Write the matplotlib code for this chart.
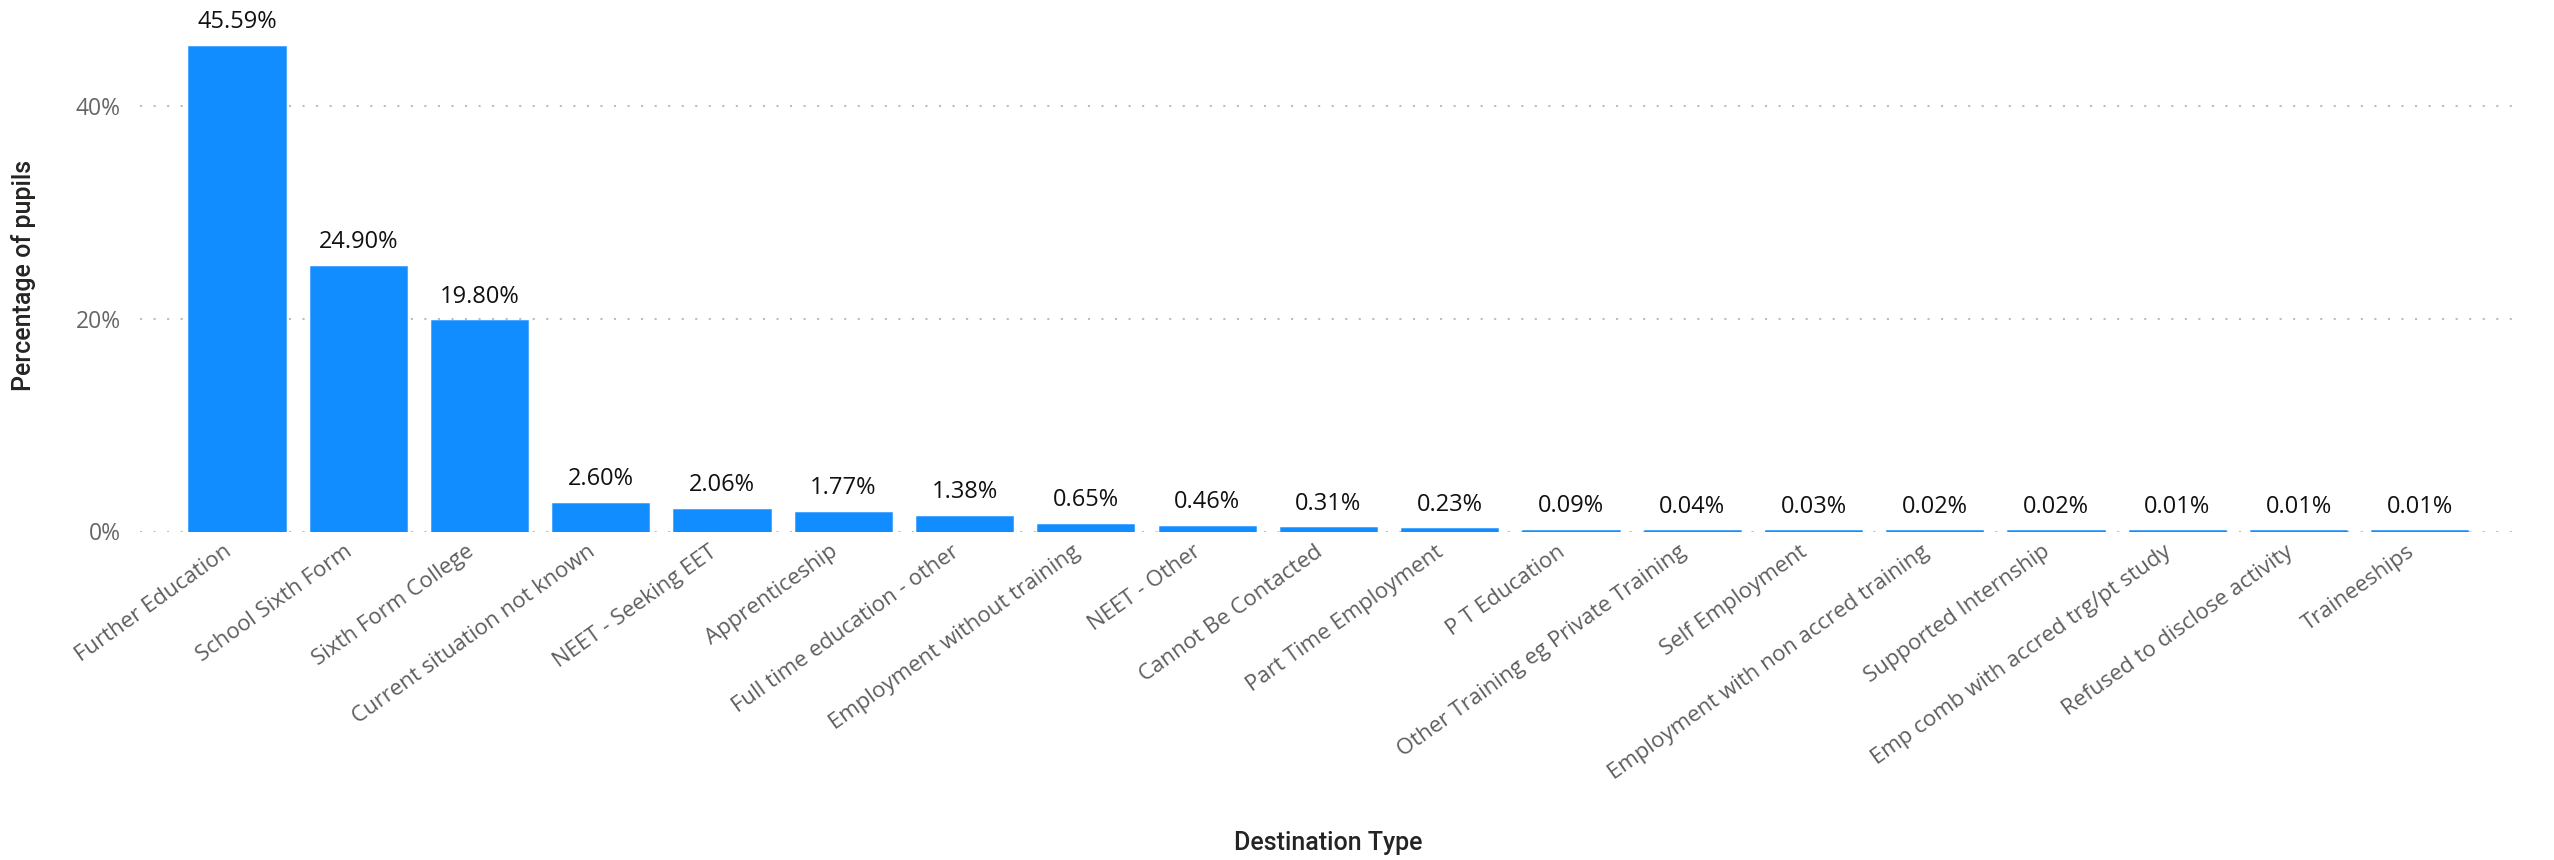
import matplotlib
matplotlib.use("Agg")
import matplotlib.pyplot as plt
import matplotlib.transforms as mtransforms
from matplotlib.ticker import FuncFormatter

categories = [
    "Further Education", "School Sixth Form", "Sixth Form College",
    "Current situation not known", "NEET - Seeking EET", "Apprenticeship",
    "Full time education - other", "Employment without training", "NEET - Other",
    "Cannot Be Contacted", "Part Time Employment", "P T Education",
    "Other Training eg Private Training", "Self Employment",
    "Employment with non accred training", "Supported Internship",
    "Emp comb with accred trg/pt study", "Refused to disclose activity", "Traineeships",
]
values = [45.59, 24.90, 19.80, 2.60, 2.06, 1.77, 1.38, 0.65, 0.46, 0.31, 0.23,
          0.09, 0.04, 0.03, 0.02, 0.02, 0.01, 0.01, 0.01]
yticks = [0, 20, 40]

BAR = "#118DFF"
W, H = 2554, 860
fig = plt.figure(figsize=(W / 100, H / 100), dpi=100)
left, right = 140 / W, 2512 / W
bottom = 1 - 531.5 / H
ax = fig.add_axes([left, bottom, right - left, 1 - bottom])

x = list(range(len(categories)))
ax.bar(x, values, width=0.785, color=BAR, edgecolor=BAR, linewidth=1.8, zorder=3)

ax.set_ylim(0, 50)
ax.set_xlim(-0.80, len(categories) - 1 + 0.76)
ax.set_yticks(yticks)
ax.yaxis.set_major_formatter(FuncFormatter(lambda v, p: f"{v:.0f}%"))
for yv in yticks:
    ax.axhline(yv, color="#bdbdbd", linewidth=1.5, linestyle=(0, (1, 5.5)), zorder=1)

for s in ax.spines.values():
    s.set_visible(False)

ax.tick_params(axis="y", length=0, pad=14, labelsize=16.5, labelcolor="#666666")
for lab in ax.get_yticklabels():
    lab.set_fontfamily("Open Sans")

ax.set_xticks(x)
ax.set_xticklabels(categories, rotation=35.5, ha="right", rotation_mode="anchor",
                   fontsize=16, color="#605e5c", fontfamily="Open Sans")
ax.tick_params(axis="x", length=0, pad=7)
shift = mtransforms.ScaledTranslation(-14 / 100, 0, fig.dpi_scale_trans)
for lab in ax.get_xticklabels():
    lab.set_transform(lab.get_transform() + shift)

for xi, v in zip(x, values):
    ax.annotate(f"{v:.2f}%", (xi, v), xytext=(0, 9), textcoords="offset points",
                ha="center", va="bottom", fontsize=17, color="#111111",
                fontfamily="Open Sans")

fig.text(24 / W, 1 - 275 / H, "Percentage of pupils", rotation=90, ha="center",
         va="center", fontsize=18, color="#252423", fontfamily="Roboto",
         fontweight="medium")
fig.text(1328 / W, 1 - 843 / H, "Destination Type", ha="center", va="center",
         fontsize=18, color="#252423", fontfamily="Roboto", fontweight="medium")

fig.savefig("out.png", dpi=100)
